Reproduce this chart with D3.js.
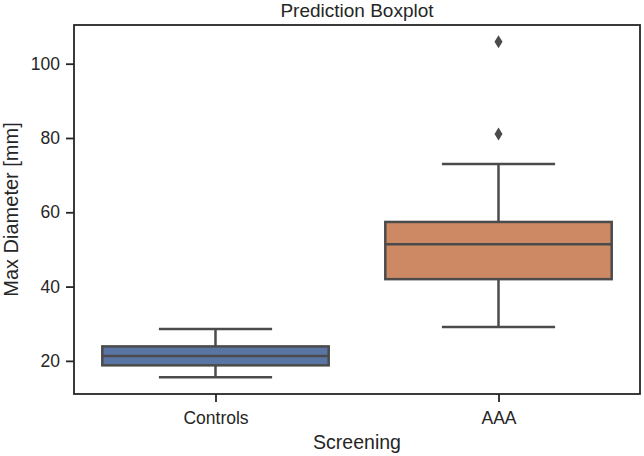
<!DOCTYPE html>
<html>
<head>
<meta charset="utf-8">
<script src="https://cdn.jsdelivr.net/npm/d3@7"></script>
<style>
  body { margin: 0; background: #fff; }
  svg text { font-family: "Liberation Sans", Arial, sans-serif; fill: #262626; }
</style>
</head>
<body>
<div class="chart"></div>
<script>
// box statistics
const categories = ["Controls", "AAA"];
const whiskerLow = [15.6, 29.1];
const q1 = [18.8, 42.0];
const median = [21.3, 51.4];
const q3 = [23.9, 57.4];
const whiskerHigh = [28.6, 73.0];
const outliers = [[], [81.1, 105.9]];
const colors = ["#5875a4", "#cc8963"];
const yTicks = [20, 40, 60, 80, 100];

const width = 644, height = 456;
const margin = { top: 25, right: 4, bottom: 62, left: 74 };
const lineColor = "#4b4b4b";

const svg = d3.select(".chart").append("svg")
  .attr("width", width)
  .attr("height", height);

// y extent = data range + 5% padding (matplotlib style)
const allVals = whiskerLow.concat(whiskerHigh, ...outliers);
const lo = d3.min(allVals), hi = d3.max(allVals);
const pad = (hi - lo) * 0.05;

let y = d3.scaleLinear()
  .domain([lo - pad, hi + pad])
  .range([height - margin.bottom, margin.top]);

let x = d3.scaleLinear()
  .domain([-0.5, categories.length - 0.5])
  .range([margin.left, width - margin.right]);

const step = x(1) - x(0);
const boxW = step * 0.8;
const capW = boxW / 2;

// boxes
let g = svg.append("g");
categories.forEach((c, i) => {
  let cx = x(i);
  // whiskers
  g.append("line").attr("x1", cx).attr("x2", cx)
    .attr("y1", y(whiskerLow[i])).attr("y2", y(q1[i]))
    .attr("stroke", lineColor).attr("stroke-width", 2.5);
  g.append("line").attr("x1", cx).attr("x2", cx)
    .attr("y1", y(q3[i])).attr("y2", y(whiskerHigh[i]))
    .attr("stroke", lineColor).attr("stroke-width", 2.5);
  // caps
  [whiskerLow[i], whiskerHigh[i]].forEach(v => {
    g.append("line").attr("x1", cx - capW / 2).attr("x2", cx + capW / 2)
      .attr("y1", y(v)).attr("y2", y(v))
      .attr("stroke", lineColor).attr("stroke-width", 2.5);
  });
  // box
  g.append("rect")
    .attr("x", cx - boxW / 2).attr("width", boxW)
    .attr("y", y(q3[i])).attr("height", y(q1[i]) - y(q3[i]))
    .attr("fill", colors[i])
    .attr("stroke", lineColor).attr("stroke-width", 2.5);
  // median
  g.append("line").attr("x1", cx - boxW / 2).attr("x2", cx + boxW / 2)
    .attr("y1", y(median[i])).attr("y2", y(median[i]))
    .attr("stroke", lineColor).attr("stroke-width", 2.5);
  // outliers as thin diamonds
  outliers[i].forEach(v => {
    let py = y(v);
    g.append("path")
      .attr("d", `M${cx},${py - 6.5}L${cx + 4},${py}L${cx},${py + 6.5}L${cx - 4},${py}Z`)
      .attr("fill", lineColor);
  });
});

// axes
let yAxis = svg.append("g")
  .attr("transform", `translate(${margin.left},0)`)
  .call(d3.axisLeft(y).tickValues(yTicks).tickSize(8).tickPadding(6).tickSizeOuter(0));
let xAxis = svg.append("g")
  .attr("transform", `translate(0,${height - margin.bottom})`)
  .call(d3.axisBottom(x).tickValues(d3.range(categories.length))
    .tickFormat(i => categories[i]).tickSize(8).tickPadding(10).tickSizeOuter(0));

[xAxis, yAxis].forEach(a => {
  a.select(".domain").remove();
  a.selectAll(".tick line").attr("stroke", "#262626").attr("stroke-width", 1.8);
  a.selectAll(".tick text").attr("font-size", "17.5px").attr("fill", "#262626");
});

// frame
svg.append("rect")
  .attr("x", margin.left).attr("y", margin.top)
  .attr("width", width - margin.left - margin.right)
  .attr("height", height - margin.top - margin.bottom)
  .attr("fill", "none").attr("stroke", "#262626").attr("stroke-width", 1.8);

// title and labels
svg.append("text")
  .attr("x", (margin.left + width - margin.right) / 2).attr("y", 17)
  .attr("text-anchor", "middle").attr("font-size", "19px")
  .text("Prediction Boxplot");

svg.append("text")
  .attr("x", (margin.left + width - margin.right) / 2).attr("y", 449)
  .attr("text-anchor", "middle").attr("font-size", "19.5px")
  .text("Screening");

svg.append("text")
  .attr("transform", `translate(18,${(margin.top + height - margin.bottom) / 2}) rotate(-90)`)
  .attr("text-anchor", "middle").attr("font-size", "20px")
  .text("Max Diameter [mm]");
</script>
</body>
</html>
